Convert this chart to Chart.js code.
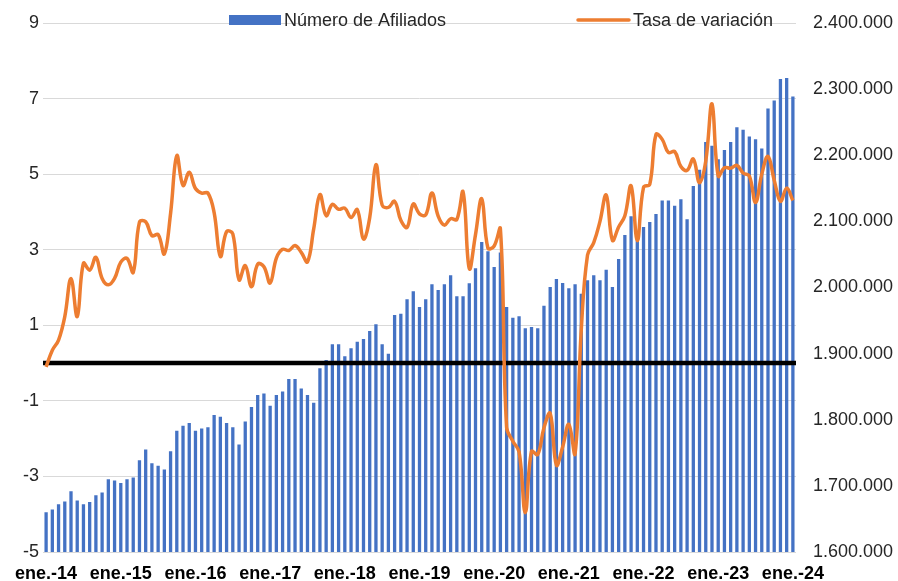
<!DOCTYPE html>
<html>
<head>
<meta charset="utf-8">
<script src="https://cdn.jsdelivr.net/npm/chart.js@4.4.1/dist/chart.umd.min.js"></script>
<style>
html,body{margin:0;padding:0;background:#ffffff;}
#wrap{width:898px;height:581px;position:relative;}
</style>
</head>
<body>
<div id="wrap"><canvas id="c" width="898" height="581"></canvas></div>
<script>
// ---- data ----
const monthAbbr = ['ene.','feb.','mar.','abr.','may.','jun.','jul.','ago.','sep.','oct.','nov.','dic.'];
const yearSuffixes = ['14','15','16','17','18','19','20','21','22','23','24'];

const afiliados = [
  1660200,1664300,1672300,1676400,1692000,1677900,1672300,1675800,1685900,1690000,1710100,1708200,
  1704500,1710100,1712700,1738900,1755100,1734300,1730300,1724800,1752500,1783200,1790800,1794900,
  1783200,1786900,1788800,1807000,1804700,1794900,1788800,1762600,1797500,1819100,1837300,1839800,
  1821100,1837300,1842900,1861500,1861500,1847400,1837300,1825600,1877700,1890300,1914000,1914000,
  1895900,1908000,1918000,1922000,1934200,1944300,1914000,1899800,1958400,1960300,1982100,1994200,
  1970500,1982100,2004800,1996200,2004800,2018500,1986700,1986700,2006400,2029100,2068900,2054800,
  2031000,2053000,1970500,1954300,1956400,1938200,1940200,1938200,1972400,2000800,2012900,2006800,
  1998800,2004800,1990600,2010900,2018500,2010900,2026800,2000800,2043100,2079500,2107800,2071400,
  2091600,2099100,2111300,2131400,2131400,2123800,2133500,2103200,2153600,2177900,2220200,2214200,
  2194100,2208100,2220200,2242500,2238400,2228300,2224300,2210100,2270600,2282800,2315200,2316700,
  2288800
];

const tasaVariacion = [
  -0.10,0.34,0.61,1.23,2.24,1.23,2.64,2.46,2.80,2.24,2.07,2.24,
  2.67,2.77,2.40,3.73,3.74,3.37,3.40,2.89,3.96,5.49,4.70,5.05,
  4.62,4.50,4.50,3.98,2.82,3.48,3.42,2.20,2.58,2.02,2.62,2.55,
  2.12,2.78,3.01,2.98,3.11,2.93,2.68,3.55,4.46,3.90,4.20,4.07,
  4.10,3.85,4.06,3.28,3.85,5.25,4.18,4.12,4.28,3.78,3.59,4.21,
  3.95,3.92,4.50,3.89,3.65,3.82,3.80,4.53,2.50,3.40,4.35,3.04,
  3.10,3.55,-1.70,-2.07,-2.35,-3.96,-2.34,-2.42,-1.71,-1.33,-2.70,-2.22,
  -1.62,-2.40,0.90,2.86,3.19,3.75,4.45,3.25,3.60,3.90,4.69,3.24,
  4.65,4.73,6.05,5.92,5.57,5.60,5.20,5.10,5.40,4.77,5.35,6.86,
  4.95,5.17,5.16,5.23,5.03,4.95,4.25,5.00,5.47,4.84,4.28,4.63,
  4.30
];

const leftTicks = {min:-5, max:9, step:2};
const rightTicks = {min:1600000, max:2400000, step:100000};

// categories built from month abbreviations and years
const categories = [];
for (let i = 0; i < afiliados.length; i++) {
  categories.push(monthAbbr[i % 12] + '-' + yearSuffixes[Math.floor(i / 12)]);
}

const FONT = "'Liberation Sans', Arial, sans-serif";
const BLUE = '#4472C4';
const ORANGE = '#ED7D31';

function fmtThousands(v) {
  return String(Math.round(v)).replace(/\B(?=(\d{3})+(?!\d))/g, '.');
}

const zeroLinePlugin = {
  id: 'zeroLine',
  afterDatasetDraw(chart, args) {
    if (chart.data.datasets[args.index].type !== 'bar') return;
    const y = chart.scales.y.getPixelForValue(0);
    const a = chart.chartArea;
    const c = chart.ctx;
    c.save();
    c.strokeStyle = '#000000';
    c.lineWidth = 4.5;
    c.beginPath();
    c.moveTo(a.left, y);
    c.lineTo(a.right, y);
    c.stroke();
    c.restore();
  }
};

const legendPlugin = {
  id: 'customLegend',
  afterDraw(chart) {
    const c = chart.ctx;
    const ds = chart.data.datasets;
    const bar = ds.find(d => d.type === 'bar');
    const line = ds.find(d => d.type === 'line');
    const cy = 20;
    c.save();
    c.font = '18px ' + FONT;
    c.textBaseline = 'middle';
    c.fillStyle = bar.backgroundColor;
    c.fillRect(229, cy - 5, 52, 10);
    c.fillStyle = '#262626';
    c.fillText(bar.label, 284, cy + 1);
    c.strokeStyle = line.borderColor;
    c.lineWidth = 3.5;
    c.lineCap = 'round';
    c.beginPath();
    c.moveTo(578, cy);
    c.lineTo(629, cy);
    c.stroke();
    c.fillText(line.label, 633, cy + 1);
    c.restore();
  }
};

new Chart(document.getElementById('c'), {
  type: 'bar',
  data: {
    labels: categories,
    datasets: [
      {
        type: 'line',
        label: 'Tasa de variación',
        data: tasaVariacion,
        yAxisID: 'y',
        borderColor: ORANGE,
        backgroundColor: ORANGE,
        borderWidth: 3.5,
        pointRadius: 0,
        tension: 0.4,
        fill: false,
        order: 0
      },
      {
        type: 'bar',
        label: 'Número de Afiliados',
        data: afiliados,
        yAxisID: 'y1',
        backgroundColor: BLUE,
        barPercentage: 0.53,
        categoryPercentage: 1,
        order: 1
      }
    ]
  },
  options: {
    responsive: false,
    animation: false,
    devicePixelRatio: 1,
    layout: {padding: {top: 23, left: 0, right: 0, bottom: 0}},
    plugins: {legend: {display: false}, tooltip: {enabled: false}},
    scales: {
      x: {
        offset: true,
        grid: {display: false, drawTicks: false},
        border: {display: false},
        ticks: {
          autoSkip: false, maxRotation: 0, minRotation: 0, padding: 11,
          color: '#000000',
          font: {family: FONT, size: 18, weight: 'bold'},
          callback: (v, i) => (i % 12 === 0 ? categories[i] : '')
        },
        afterFit: s => { s.height = 29; }
      },
      y: {
        position: 'left',
        min: leftTicks.min, max: leftTicks.max,
        ticks: {stepSize: leftTicks.step, padding: 4, color: '#262626', font: {family: FONT, size: 18}},
        grid: {color: '#d9d9d9', lineWidth: 1, drawTicks: false},
        border: {display: false},
        afterFit: s => { s.width = 43; s.paddingTop = 0; s.paddingBottom = 0; }
      },
      y1: {
        position: 'right',
        min: rightTicks.min, max: rightTicks.max,
        ticks: {stepSize: rightTicks.step, padding: 17, color: '#262626', font: {family: FONT, size: 18},
          callback: v => fmtThousands(v)},
        grid: {display: false, drawOnChartArea: false, drawTicks: false},
        border: {display: false},
        afterFit: s => { s.width = 102; s.paddingTop = 0; s.paddingBottom = 0; }
      }
    }
  },
  plugins: [zeroLinePlugin, legendPlugin]
});
</script>
</body>
</html>
